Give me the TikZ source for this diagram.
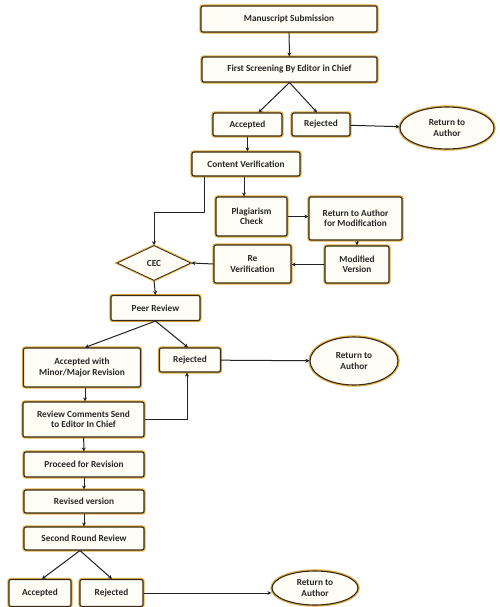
\documentclass[tikz,border=0pt]{standalone}
\usepackage{fontspec}
\setmainfont{Carlito}
\usetikzlibrary{shapes.geometric,arrows.meta,calc}
\definecolor{edge}{HTML}{3A2810}
\definecolor{halo}{HTML}{E2B24A}
\definecolor{boxfill}{HTML}{FFFEF6}
\definecolor{linec}{HTML}{222222}
\tikzset{
  txt/.style={font=\fontsize{9.3}{10.5}\selectfont\bfseries, text=black!85},
  box/.style={rectangle, rounded corners=2pt, draw=edge, line width=1.1pt, fill=boxfill,
    preaction={draw=halo, line width=3.4pt}, txt, align=center, inner sep=1pt},
  oval/.style={ellipse, draw=edge, line width=1.1pt, fill=boxfill,
    preaction={draw=halo, line width=3.4pt}, txt, align=center, inner sep=0pt},
  dia/.style={diamond, draw=edge, line width=0.8pt, fill=boxfill,
    preaction={draw=halo, line width=2.6pt}, txt, inner sep=0pt},
  conn/.style={draw=linec, line width=1pt, -{Stealth[length=4pt,width=4pt]}},
  plain/.style={draw=linec, line width=1pt}
}
\begin{document}
\begin{tikzpicture}[x=1pt,y=-1pt]
\useasboundingbox (0,0) rectangle (500,607);
\fill[white] (0,0) rectangle (500,607);
% nodes
\node[box, minimum width=176pt, minimum height=26pt] (ms) at (289,19) {Manuscript Submission};
\node[box, minimum width=175pt, minimum height=25pt] (fs) at (289.5,69.5) {First Screening By Editor in Chief};
\node[box, minimum width=69pt, minimum height=23pt] (acc1) at (247.5,124.5) {Accepted};
\node[box, minimum width=58pt, minimum height=23pt] (rej1) at (321,124.5) {Rejected};
\node[oval, minimum width=94pt, minimum height=42pt] (ret1) at (447,128) {Return to\\Author};
\node[box, minimum width=108pt, minimum height=24pt] (cv) at (246,164) {Content Verification};
\node[box, minimum width=71pt, minimum height=39pt] (pc) at (251.5,216.5) {Plagiarism\\Check};
\node[box, minimum width=93pt, minimum height=43pt] (ram) at (355.5,218.5) {Return to Author\\for Modification};
\node[box, minimum width=64pt, minimum height=37pt] (mv) at (357,264.5) {Modified\\Version};
\node[box, minimum width=77pt, minimum height=38pt] (rv) at (252.5,264) {Re\\Verification};
\node[dia, minimum width=74pt, minimum height=35pt, aspect=2.1] (cec) at (154,263) {CEC};
\node[box, minimum width=89pt, minimum height=25pt] (pr) at (155.5,308) {Peer Review};
\node[box, minimum width=117pt, minimum height=39pt] (amm) at (82,367.5) {Accepted with\\Minor/Major Revision};
\node[box, minimum width=61pt, minimum height=24pt] (rej2) at (190,360) {Rejected};
\node[oval, minimum width=88pt, minimum height=48pt] (ret2) at (354,361) {Return to\\Author};
\node[box, minimum width=121pt, minimum height=35pt] (rc) at (83.5,419.5) {Review Comments Send\\to Editor In Chief};
\node[box, minimum width=120pt, minimum height=25pt] (pfr) at (84,464.5) {Proceed for Revision};
\node[box, minimum width=120pt, minimum height=23pt] (rvv) at (84,501.5) {Revised version};
\node[box, minimum width=120pt, minimum height=23pt] (srr) at (84,538.5) {Second Round Review};
\node[box, minimum width=62pt, minimum height=27pt] (acc3) at (40,593) {Accepted};
\node[box, minimum width=63pt, minimum height=27pt] (rej3) at (111.5,593) {Rejected};
\node[oval, minimum width=86pt, minimum height=34pt] (ret3) at (315,588) {Return to\\Author};
\coordinate (end1) at (40,607);
\coordinate (end2) at (109,607);
\coordinate (cvp) at ($(cv.south)+(-2,0)$);
\coordinate (cvl) at ($(cv.south west)+(13,0)$);
\coordinate (rjb) at ($(rej2.south)+(-3,0)$);
% connectors
\draw[conn] (ms) -- (fs);
\draw[conn] (fs.south) -- ($(acc1.north)+(11,0)$);
\draw[conn] (fs.south) -- ($(rej1.north)+(-4,0)$);
\draw[conn] (rej1) -- (ret1);
\draw[conn] (acc1) -- (acc1 |- cv.north);
\draw[conn] (cvp) -- (cvp |- pc.north);
\draw[conn] (cvl) -- ++(0,36) -| (cec.north);
\draw[conn] (pc.east) -- (pc.east -| ram.west);
\draw[conn] (ram.south -| mv.north) -- (mv.north);
\draw[conn] (mv.west) -- (mv.west -| rv.east);
\draw[conn] (rv.west) -- (cec.east);
\draw[conn] (cec.south) -- (pr.north);
\draw[conn] (pr.south) -- ($(amm.north)+(3,0)$);
\draw[conn] (pr.south) -- ($(rej2.north)+(-2,0)$);
\draw[conn] (rej2) -- (ret2);
\draw[conn] ($(amm.south)+(3,0)$) -- ($(rc.north)+(1.5,0)$);
\draw[conn] (rc.east) -| (rjb);
\draw[conn] (rc) -- (pfr);
\draw[conn] (pfr) -- (rvv);
\draw[conn] (rvv) -- (srr);
\draw[conn] ($(srr.south)+(-4,0)$) -- ($(acc3.north)+(2,0)$);
\draw[conn] ($(srr.south)+(-4,0)$) -- ($(rej3.north)+(0.5,0)$);
\draw[conn] (rej3.east) -- (rej3.east -| ret3.west);
\draw[plain] (acc3.south) -- (end1);
\draw[plain] ($(rej3.south)+(-2.5,0)$) -- (end2);
\end{tikzpicture}
\end{document}
